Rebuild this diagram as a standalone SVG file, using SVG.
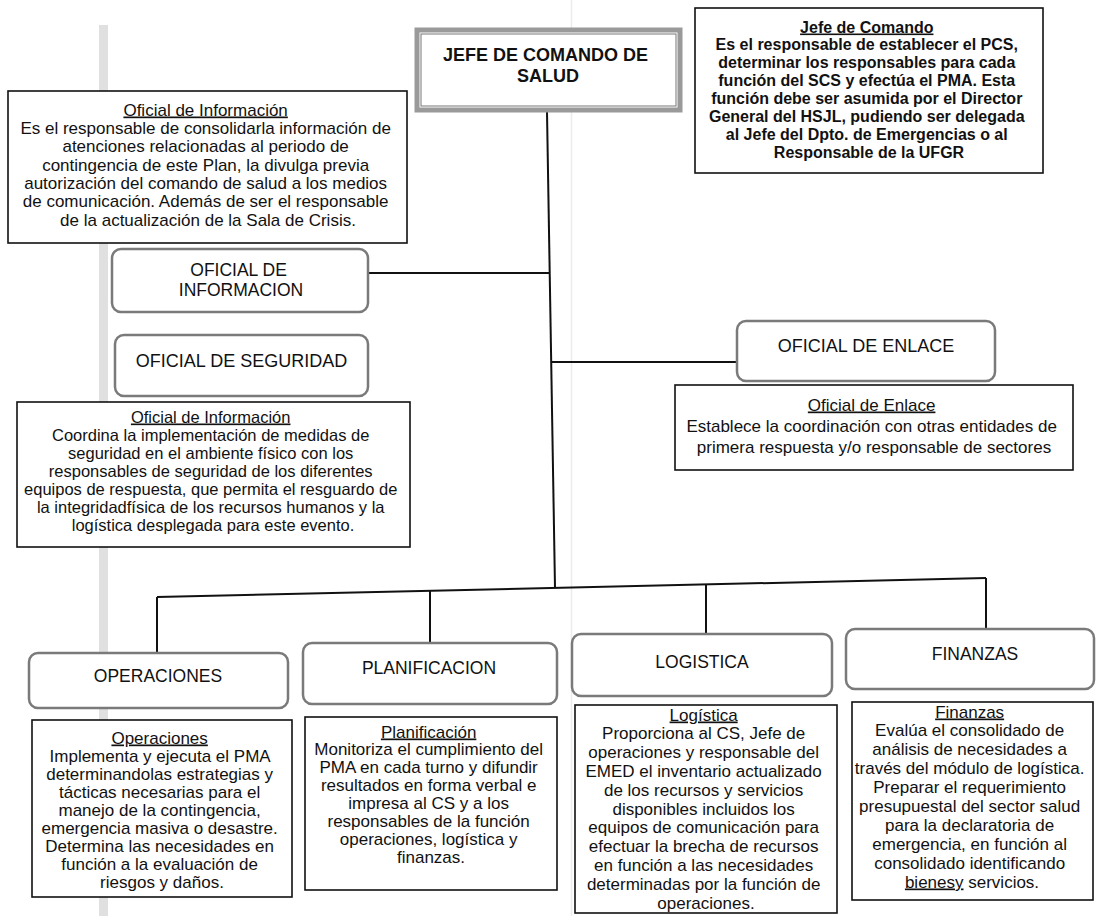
<svg xmlns="http://www.w3.org/2000/svg" width="1097" height="916" viewBox="0 0 1097 916">
<style>
  .rbox { fill: #ffffff; stroke: #7a7a7a; stroke-width: 2.5; }
  .dbox { fill: #ffffff; stroke: #111111; stroke-width: 1.6; }
  .lbl { font-family: "Liberation Sans", Arial, sans-serif; font-size: 17.5px; fill: #111; text-anchor: middle; }
  .desc { font-family: "Liberation Sans", Arial, sans-serif; font-size: 17px; fill: #111; text-anchor: middle; }
  .descb { font-family: "Liberation Sans", Arial, sans-serif; font-size: 16px; font-weight: bold; fill: #111; text-anchor: middle; }
  .ttl { text-decoration: underline; }
  .conn { stroke: #111; stroke-width: 2; fill: none; }
</style>
<rect x="0" y="0" width="1097" height="916" fill="#ffffff"/>
<!-- scan artifacts -->
<rect x="99" y="25" width="9" height="891" fill="#e0e0e0"/>
<line x1="571.5" y1="0" x2="571.5" y2="916" stroke="#ececec" stroke-width="1.5"/>

<g id="connectors">
  <line class="conn" x1="547" y1="112" x2="555" y2="588"/>
  <line class="conn" x1="368" y1="273" x2="549.5" y2="273"/>
  <line class="conn" x1="551" y1="362" x2="737" y2="362"/>
  <line class="conn" x1="157" y1="597" x2="986" y2="578"/>
  <line class="conn" x1="157" y1="597" x2="157" y2="653"/>
  <line class="conn" x1="430" y1="591" x2="430" y2="643"/>
  <line class="conn" x1="706" y1="584" x2="706" y2="634"/>
  <line class="conn" x1="986" y1="578" x2="986" y2="629"/>
</g>

<g id="jefe-salud">
  <rect x="417" y="30" width="263" height="80" fill="#ffffff" stroke="#9a9a9a" stroke-width="5"/>
  <rect x="421" y="34" width="255" height="72" fill="none" stroke="#777" stroke-width="1"/>
  <text font-family="Liberation Sans, Arial, sans-serif" font-size="18px" font-weight="bold" fill="#111" text-anchor="middle">
    <tspan x="548" y="61">JEFE DE COMANDO DE</tspan>
    <tspan x="548" y="82">SALUD</tspan>
  </text>
</g>

<g id="desc-info">
  <rect class="dbox" x="8" y="91" width="399" height="152"/>
  <text class="desc">
    <tspan x="208" y="115.5" class="ttl">Oficial de Información</tspan>
    <tspan x="208" y="133.8">Es el responsable de consolidarla información de</tspan>
    <tspan x="208" y="152.2">atenciones relacionadas al periodo de</tspan>
    <tspan x="208" y="170.5">contingencia de este Plan, la divulga previa</tspan>
    <tspan x="208" y="188.8">autorización del comando de salud a los medios</tspan>
    <tspan x="208" y="207.2">de comunicación. Además de ser el responsable</tspan>
    <tspan x="208" y="225.5">de la actualización de la Sala de Crisis.</tspan>
  </text>
</g>

<g id="desc-jefe">
  <rect class="dbox" x="695" y="8" width="348" height="165"/>
  <text class="descb">
    <tspan x="869" y="32.5" class="ttl">Jefe de Comando</tspan>
    <tspan x="869" y="50.4">Es el responsable de establecer el PCS,</tspan>
    <tspan x="869" y="68.2">determinar los responsables para cada</tspan>
    <tspan x="869" y="86.1">función del SCS y efectúa el PMA. Esta</tspan>
    <tspan x="869" y="103.9">función debe ser asumida por el Director</tspan>
    <tspan x="869" y="121.8">General del HSJL, pudiendo ser delegada</tspan>
    <tspan x="869" y="139.6">al Jefe del Dpto. de Emergencias o al</tspan>
    <tspan x="869" y="157.5">Responsable de la UFGR</tspan>
  </text>
</g>

<g id="oficial-informacion">
  <rect class="rbox" x="112" y="249" width="256" height="63" rx="9"/>
  <text class="lbl" font-size="17px">
    <tspan x="241" y="276">OFICIAL DE</tspan>
    <tspan x="241" y="296">INFORMACION</tspan>
  </text>
</g>

<g id="oficial-seguridad">
  <rect class="rbox" x="115" y="335" width="253" height="61" rx="9"/>
  <text class="lbl" x="241.5" y="366.5" style="font-size:18px">OFICIAL DE SEGURIDAD</text>
</g>

<g id="desc-seguridad">
  <rect class="dbox" x="17" y="402" width="393" height="145"/>
  <text class="desc" style="font-size:16.5px">
    <tspan x="213" y="422.5" class="ttl">Oficial de Información</tspan>
    <tspan x="213" y="440.5">Coordina la implementación de medidas de</tspan>
    <tspan x="213" y="458.5">seguridad en el ambiente físico con los</tspan>
    <tspan x="213" y="476.5">responsables de seguridad de los diferentes</tspan>
    <tspan x="213" y="494.5">equipos de respuesta, que permita el resguardo de</tspan>
    <tspan x="213" y="512.5">la integridadfísica de los recursos humanos y la</tspan>
    <tspan x="213" y="530.5">logística desplegada para este evento.</tspan>
  </text>
</g>

<g id="oficial-enlace">
  <rect class="rbox" x="737" y="321" width="258" height="60" rx="9"/>
  <text class="lbl" x="866" y="351.5" style="font-size:18px">OFICIAL DE ENLACE</text>
</g>

<g id="desc-enlace">
  <rect class="dbox" x="675" y="385" width="398" height="85"/>
  <text class="desc">
    <tspan x="874" y="410.5" class="ttl">Oficial de Enlace</tspan>
    <tspan x="874" y="432">Establece la coordinación con otras entidades de</tspan>
    <tspan x="874" y="452.5">primera respuesta y/o responsable de sectores</tspan>
  </text>
</g>

<g id="operaciones">
  <rect class="rbox" x="29" y="653" width="259" height="55" rx="9"/>
  <text class="lbl" x="158" y="682">OPERACIONES</text>
</g>

<g id="planificacion">
  <rect class="rbox" x="303" y="643" width="254" height="61" rx="9"/>
  <text class="lbl" x="429" y="674">PLANIFICACION</text>
</g>

<g id="logistica">
  <rect class="rbox" x="572" y="634" width="260" height="62" rx="9"/>
  <text class="lbl" x="702" y="668">LOGISTICA</text>
</g>

<g id="finanzas">
  <rect class="rbox" x="846" y="629" width="248" height="60" rx="9"/>
  <text class="lbl" x="975" y="660">FINANZAS</text>
</g>

<g id="desc-operaciones">
  <rect class="dbox" x="32" y="720" width="260" height="177"/>
  <text class="desc">
    <tspan x="162" y="743.5" class="ttl">Operaciones</tspan>
    <tspan x="162" y="761.5">Implementa y ejecuta el PMA</tspan>
    <tspan x="162" y="779.5">determinandolas estrategias y</tspan>
    <tspan x="162" y="797.5">tácticas necesarias para el</tspan>
    <tspan x="162" y="815.5">manejo de la contingencia,</tspan>
    <tspan x="162" y="833.5">emergencia masiva o desastre.</tspan>
    <tspan x="162" y="851.5">Determina las necesidades en</tspan>
    <tspan x="162" y="869.5">función a la evaluación de</tspan>
    <tspan x="162" y="887.5">riesgos y daños.</tspan>
  </text>
</g>

<g id="desc-planificacion">
  <rect class="dbox" x="305" y="717" width="252" height="173"/>
  <text class="desc">
    <tspan x="431" y="737.5" class="ttl">Planificación</tspan>
    <tspan x="431" y="755.4">Monitoriza el cumplimiento del</tspan>
    <tspan x="431" y="773.2">PMA en cada turno y difundir</tspan>
    <tspan x="431" y="791.1">resultados en forma verbal e</tspan>
    <tspan x="431" y="808.9">impresa al CS y a los</tspan>
    <tspan x="431" y="826.8">responsables de la función</tspan>
    <tspan x="431" y="844.6">operaciones, logística y</tspan>
    <tspan x="431" y="862.5">finanzas.</tspan>
  </text>
</g>

<g id="desc-logistica">
  <rect class="dbox" x="575" y="705" width="262" height="208"/>
  <text class="desc">
    <tspan x="706" y="720.5" class="ttl">Logística</tspan>
    <tspan x="706" y="739.3">Proporciona al CS, Jefe de</tspan>
    <tspan x="706" y="758.1">operaciones y responsable del</tspan>
    <tspan x="706" y="776.9">EMED el inventario actualizado</tspan>
    <tspan x="706" y="795.7">de los recursos y servicios</tspan>
    <tspan x="706" y="814.5">disponibles incluidos los</tspan>
    <tspan x="706" y="833.3">equipos de comunicación para</tspan>
    <tspan x="706" y="852.1">efectuar la brecha de recursos</tspan>
    <tspan x="706" y="870.9">en función a las necesidades</tspan>
    <tspan x="706" y="889.7">determinadas por la función de</tspan>
    <tspan x="706" y="908.5">operaciones.</tspan>
  </text>
</g>

<g id="desc-finanzas">
  <rect class="dbox" x="852" y="702" width="241" height="198"/>
  <text class="desc">
    <tspan x="972" y="717.5" class="ttl">Finanzas</tspan>
    <tspan x="972" y="736.4">Evalúa el consolidado de</tspan>
    <tspan x="972" y="755.3">análisis de necesidades a</tspan>
    <tspan x="972" y="774.2">través del módulo de logística.</tspan>
    <tspan x="972" y="793.1">Preparar el requerimiento</tspan>
    <tspan x="972" y="812">presupuestal del sector salud</tspan>
    <tspan x="972" y="830.9">para la declaratoria de</tspan>
    <tspan x="972" y="849.8">emergencia, en función al</tspan>
    <tspan x="972" y="868.7">consolidado identificando</tspan>
    <tspan x="972" y="887.5"><tspan class="ttl">bienesy</tspan> servicios.</tspan>
  </text>
</g>
</svg>
